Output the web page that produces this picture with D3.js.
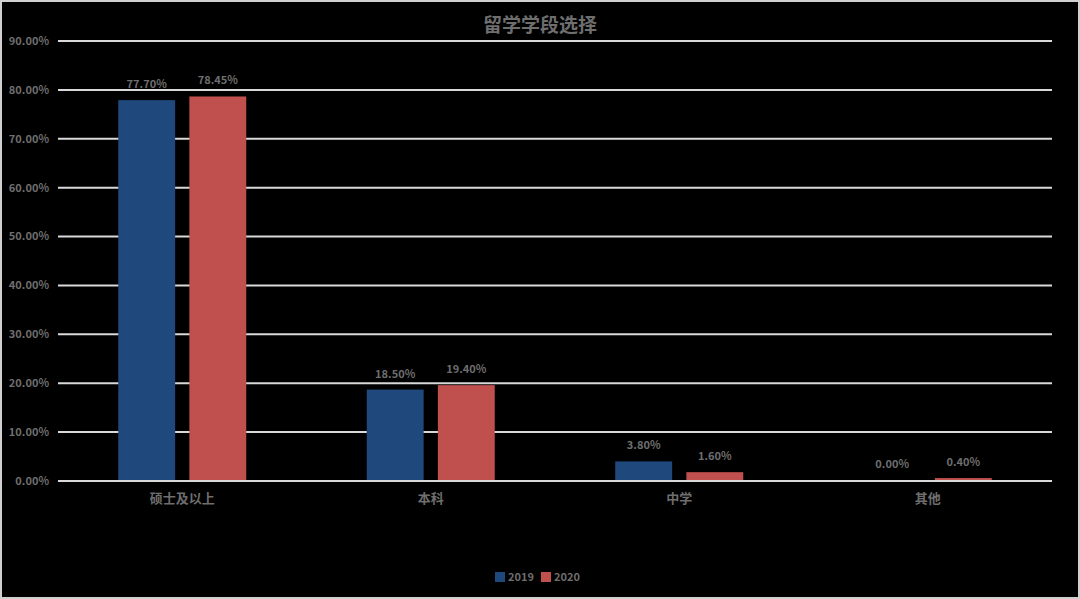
<!DOCTYPE html>
<html>
<head>
	<meta charset="utf-8">
	<title>留学学段选择</title>
	<script type="text/javascript" src="https://d3js.org/d3.v7.min.js"></script>
	<style>
		html, body{
			margin: 0;
			padding: 0;
			background: #000;
		}
		.chart text{
			fill: #6e6e6e;
			font-family: "Noto Sans CJK SC", "DejaVu Sans", sans-serif;
			font-weight: bold;
		}
	</style>
</head>
<body>
<svg class="chart"></svg>

<script type="text/javascript">
	// Data
	var categories = ["硕士及以上", "本科", "中学", "其他"];
	var seriesNames = ["2019", "2020"];
	var values2019 = [77.70, 18.50, 3.80, 0.00];
	var values2020 = [78.45, 19.40, 1.60, 0.40];
	var yTicks = [0, 10, 20, 30, 40, 50, 60, 70, 80, 90];

	var width = 1080,
		height = 599;
	var colors = ["#1f497d", "#c0504d"];

	var chart = d3.select(".chart")
		.attr("width", width)
		.attr("height", height);

	// light frame around the picture
	chart.append("rect")
		.attr("x", 1).attr("y", 1)
		.attr("width", width - 2).attr("height", height - 2)
		.attr("fill", "#000")
		.attr("stroke", "#d0d0d0")
		.attr("stroke-width", 2);

	// plot area (named so they don't clash with window.top)
	var plotLeft = 58, plotRight = 1052, plotTop = 41, plotBottom = 481;

	var x = d3.scaleBand()
		.domain(categories)
		.range([plotLeft, plotRight]);

	var x1 = d3.scaleBand()
		.domain(seriesNames)
		.range([x.bandwidth() / 2 - 64, x.bandwidth() / 2 + 64])
		.paddingInner(0.2);

	var y = d3.scaleLinear()
		.domain([0, 90])
		.range([plotBottom, plotTop]);

	// grid lines
	chart.append("g")
		.selectAll("line")
		.data(yTicks)
	  .enter().append("line")
		.attr("x1", plotLeft).attr("x2", plotRight)
		.attr("y1", function(d){ return y(d); })
		.attr("y2", function(d){ return y(d); })
		.attr("stroke", "#d9d9d9")
		.attr("stroke-width", 2);

	// y tick labels
	chart.append("g")
		.selectAll("text")
		.data(yTicks)
	  .enter().append("text")
		.attr("x", 49)
		.attr("y", function(d){ return y(d); })
		.attr("dy", ".35em")
		.attr("text-anchor", "end")
		.style("font-size", "11px")
		.text(function(d){ return d.toFixed(2) + "%"; });

	var rows = categories.map(function(c, i){
		return [
			{cat: c, key: seriesNames[0], v: values2019[i], color: colors[0]},
			{cat: c, key: seriesNames[1], v: values2020[i], color: colors[1]}
		];
	});

	var group = chart.append("g")
		.selectAll("g")
		.data(rows)
	  .enter().append("g")
		.attr("transform", function(d){ return "translate(" + x(d[0].cat) + ",0)"; });

	// bars end just above the baseline so the axis line stays visible
	group.selectAll("rect")
		.data(function(d){ return d; })
	  .enter().append("rect")
		.attr("x", function(d){ return x1(d.key); })
		.attr("y", function(d){ return y(d.v) - 1; })
		.attr("width", x1.bandwidth())
		.attr("height", function(d){ return y(0) - y(d.v); })
		.attr("fill", function(d){ return d.color; });

	// value labels
	group.selectAll("text")
		.data(function(d){ return d; })
	  .enter().append("text")
		.attr("x", function(d){ return x1(d.key) + x1.bandwidth() / 2; })
		.attr("y", function(d){ return y(d.v) - 13; })
		.attr("text-anchor", "middle")
		.style("font-size", "11px")
		.text(function(d){ return d.v.toFixed(2) + "%"; });

	// category labels
	chart.append("g")
		.selectAll("text")
		.data(categories)
	  .enter().append("text")
		.attr("x", function(d){ return x(d) + x.bandwidth() / 2; })
		.attr("y", 503)
		.attr("text-anchor", "middle")
		.style("font-size", "13px")
		.text(function(d){ return d; });

	// title
	chart.append("text")
		.attr("x", width / 2)
		.attr("y", 32)
		.attr("text-anchor", "middle")
		.style("font-size", "19px")
		.text("留学学段选择");

	// legend
	var legend = chart.append("g")
		.selectAll("g")
		.data(seriesNames)
	  .enter().append("g")
		.attr("transform", function(d, i){ return "translate(" + (495 + i * 46) + ",572)"; });

	legend.append("rect")
		.attr("width", 10)
		.attr("height", 10)
		.attr("fill", function(d, i){ return colors[i]; });

	legend.append("text")
		.attr("x", 13)
		.attr("y", 5)
		.attr("dy", ".35em")
		.style("font-size", "11px")
		.text(function(d){ return d; });
</script>
</body>
</html>
